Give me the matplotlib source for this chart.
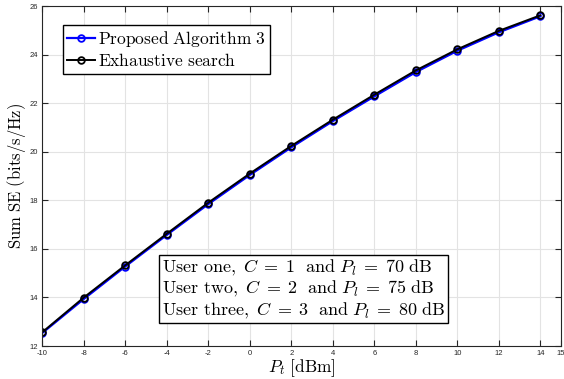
import numpy as np
import matplotlib.pyplot as plt

plt.rcParams['mathtext.fontset'] = 'cm'
plt.rcParams['axes.unicode_minus'] = False

# Transmit power (dBm) and achieved sum spectral efficiency
pt = [-10, -8, -6, -4, -2, 0, 2, 4, 6, 8, 10, 12, 14]
se_proposed = [12.53, 13.93, 15.27, 16.57, 17.84, 19.04, 20.18, 21.26, 22.28, 23.28, 24.16, 24.92, 25.58]
se_exhaustive = [12.56, 13.99, 15.32, 16.62, 17.90, 19.10, 20.24, 21.32, 22.35, 23.35, 24.22, 24.98, 25.62]

xticks = [-10, -8, -6, -4, -2, 0, 2, 4, 6, 8, 10, 12, 14, 15]
yticks = [12, 14, 16, 18, 20, 22, 24, 26]

fig = plt.figure(figsize=(5.64, 3.79), dpi=100)
ax = fig.add_axes([0.0745, 0.087, 0.9205, 0.897])

ax.plot(pt, se_proposed, color='#0000ff', lw=1.6, marker='o', ms=4.8,
        mfc='none', mew=1.3, label=r'$\mathrm{Proposed\ Algorithm\ 3}$')
ax.plot(pt, se_exhaustive, color='black', lw=1.4, marker='o', ms=4.8,
        mfc='none', mew=1.3, label=r'$\mathrm{Exhaustive\ search}$')

ax.set_xlim(-10, 15)
ax.set_ylim(12, 26)
ax.set_xticks(xticks)
ax.set_xticklabels([str(v) for v in xticks], family='Liberation Sans')
ax.set_yticks(yticks)
ax.set_yticklabels([str(v) for v in yticks], family='Liberation Sans')
ax.tick_params(direction='in', length=4, width=0.8, labelsize=5.5,
               colors='#262626', top=True, right=True, pad=3)
ax.grid(True, color='#e3e3e3', lw=0.8)
for s in ax.spines.values():
    s.set_color('#262626')
    s.set_linewidth(0.8)

ax.set_xlabel(r'$P_t\ \mathrm{[dBm]}$', fontsize=12.5, labelpad=0)
ax.set_ylabel(r'$\mathrm{Sum\ SE\ (bits/s/Hz)}$', fontsize=12, labelpad=1)

leg = ax.legend(loc='upper left', bbox_to_anchor=(0.04, 0.945), fontsize=12.5,
                fancybox=False, edgecolor='black', framealpha=1,
                handlelength=1.6, handletextpad=0.2, borderpad=0.25,
                labelspacing=0.15, borderaxespad=0)
leg.get_frame().set_linewidth(1.0)

note = (r'$\mathrm{User\ one,\ }C\;=\;1\mathrm{\ \ and\ }P_l\;=\;70\mathrm{\ dB}$' + '\n' +
        r'$\mathrm{User\ two,\ }C\;=\;2\mathrm{\ \ and\ }P_l\;=\;75\mathrm{\ dB}$' + '\n' +
        r'$\mathrm{User\ three,\ }C\;=\;3\mathrm{\ \ and\ }P_l\;=\;80\mathrm{\ dB}$')
ax.text(0.231, 0.075, note, transform=ax.transAxes, fontsize=13,
        va='bottom', ha='left', linespacing=1.1,
        bbox=dict(boxstyle='square,pad=0.15', fc='white', ec='black', lw=1.0))

plt.savefig('out.png', dpi=100)
